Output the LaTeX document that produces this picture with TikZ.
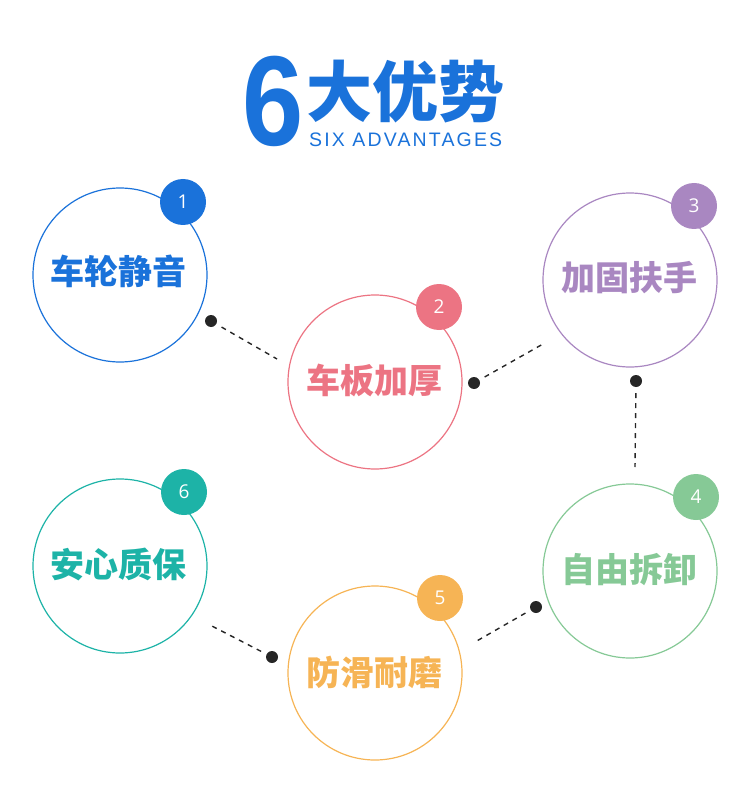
\documentclass[tikz,border=0pt]{standalone}
\usepackage{fontspec}
\newfontfamily\cjk{Noto Sans CJK SC}
\newfontfamily\lsans{Liberation Sans}
\newfontfamily\osans{Open Sans}
\definecolor{cblue}{HTML}{1A72DA}
\definecolor{cpink}{HTML}{EC7483}
\definecolor{cpurple}{HTML}{A987C1}
\definecolor{cgreen}{HTML}{86C996}
\definecolor{corange}{HTML}{F6B455}
\definecolor{cteal}{HTML}{1DB3A7}
\definecolor{cdot}{HTML}{262626}
\tikzset{
  ring/.style={circle, draw=#1, line width=1.2pt, minimum size=174pt, inner sep=0pt},
  badge/.style={circle, fill=#1, minimum size=46pt, inner sep=0pt, text=white, font=\osans\fontsize{19}{19}\selectfont},
  label/.style={text=#1, font=\cjk\bfseries\fontsize{34}{34}\selectfont, inner sep=0pt},
  blackdot/.style={circle, fill=cdot, minimum size=12pt, inner sep=0pt},
  link/.style={draw=cdot, line width=1.4pt, dash pattern=on 5pt off 5pt},
}
\begin{document}
\begin{tikzpicture}[x=1pt,y=-1pt]
\useasboundingbox (0,0) rectangle (750,794);
% title
\node[anchor=north west, inner sep=0pt, text=cblue, xscale=0.86,
  font=\lsans\bfseries\fontsize{128}{128}\selectfont] (six) at (242,56) {6};
\node[anchor=west, inner sep=0pt, text=cblue,
  font=\cjk\bfseries\fontsize{66}{66}\selectfont] (title) at (306,92) {大优势};
\node[anchor=west, inner sep=0pt, text=cblue,
  font=\lsans\addfontfeature{LetterSpace=11}\fontsize{19.5}{19.5}\selectfont] (sub) at (309,140) {SIX ADVANTAGES};
% circles
\node[ring=cblue]   (c1) at (120,275) {};
\node[ring=cpink]   (c2) at (375,382) {};
\node[ring=cpurple] (c3) at (630,280) {};
\node[ring=cgreen]  (c4) at (630,571) {};
\node[ring=corange] (c5) at (375,673) {};
\node[ring=cteal]   (c6) at (120,566) {};
% labels
\node[label=cblue]   (t1) at (118,271) {车轮静音};
\node[label=cpink]   (t2) at (374,380) {车板加厚};
\node[label=cpurple] (t3) at (629,278) {加固扶手};
\node[label=cgreen]  (t4) at (629,570) {自由拆卸};
\node[label=corange] (t5) at (374,672) {防滑耐磨};
\node[label=cteal]   (t6) at (118,565) {安心质保};
% badges
\node[badge=cblue]   (b1) at (183,202) {1};
\node[badge=cpink]   (b2) at (439,307) {2};
\node[badge=cpurple] (b3) at (694,206) {3};
\node[badge=cgreen]  (b4) at (696,497) {4};
\node[badge=corange] (b5) at (440,598) {5};
\node[badge=cteal]   (b6) at (184,492) {6};
% dots
\node[blackdot] (d1) at (211,321) {};
\node[blackdot] (d2) at (474,383) {};
\node[blackdot] (d3) at (636,381) {};
\node[blackdot] (d4) at (536,607) {};
\node[blackdot] (d5) at (272,657) {};
\coordinate (e1) at (277,359);
\coordinate (e2) at (543,344);
\coordinate (e3) at (635,467);
\coordinate (e4) at (475,642);
\coordinate (e5) at (208,624);
\draw[link, shorten <=6pt] (d1) -- (e1);
\draw[link, shorten <=6pt] (d2) -- (e2);
\draw[link, shorten <=6pt] (d3) -- (e3);
\draw[link, shorten <=6pt] (d4) -- (e4);
\draw[link, shorten <=6pt] (d5) -- (e5);
\end{tikzpicture}
\end{document}
